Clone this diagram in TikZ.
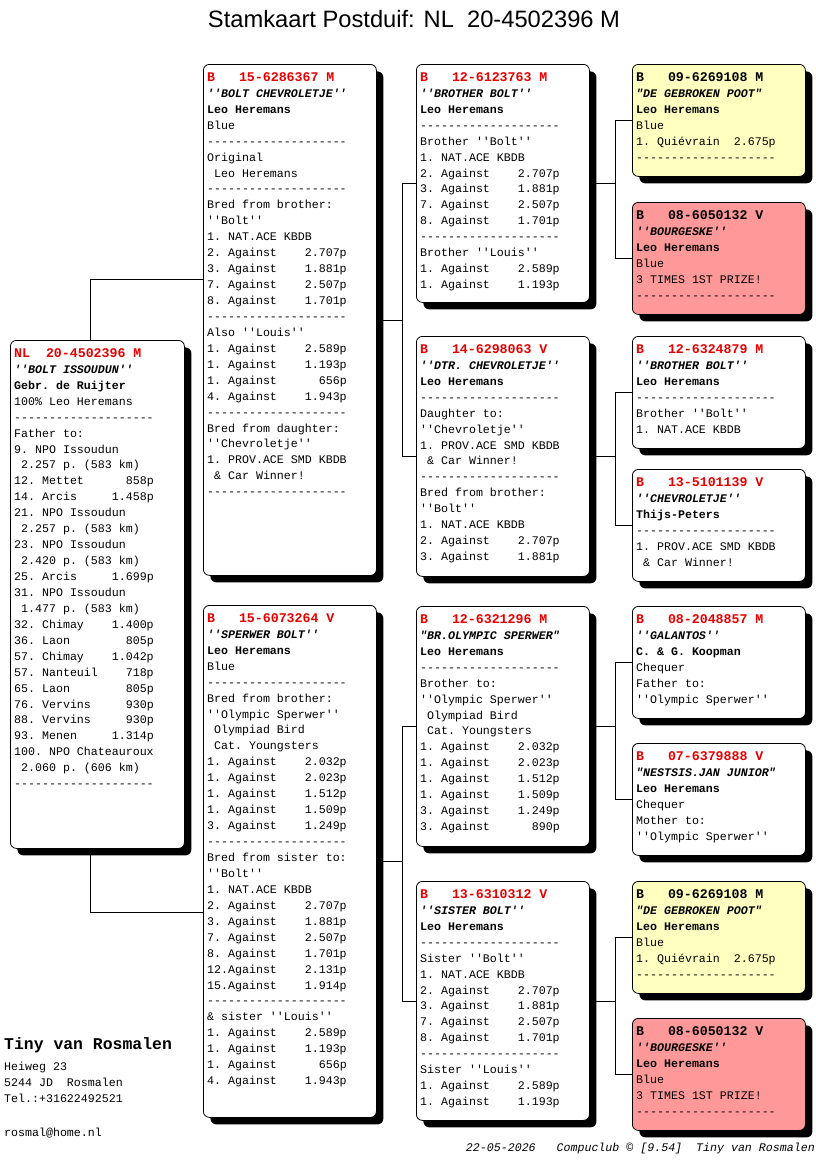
\documentclass[tikz,border=0pt]{standalone}
\usepackage{fontspec}
\setmainfont{Liberation Serif}
\setsansfont{Liberation Sans}
\setmonofont{Liberation Mono}
\usetikzlibrary{calc}
\usetikzlibrary{shadows}
\definecolor[named]{PedRed}{RGB}{230,0,0}
\definecolor[named]{PedYellow}{RGB}{255,255,192}
\definecolor[named]{PedPink}{RGB}{255,153,153}
\pgfdeclarelayer{paper}
\pgfdeclarelayer{links}
\pgfsetlayers{paper,links,main}
\newcommand{\cardfont}{\fontsize{11.67}{16}\selectfont\ttfamily\frenchspacing}
\newcommand{\ring}[1]{\strut{\fontsize{13.3}{16}\selectfont\bfseries #1}}
\newcommand{\redring}[1]{\textcolor{PedRed}{\ring{#1}}}
\newcommand{\pname}[1]{{\bfseries\itshape #1}}
\newcommand{\owner}[1]{{\bfseries #1}}
\newcommand{\ind}{\hspace*{0.6em}}
\newcommand{\dashes}{--------------------}
\tikzset{
  card/.style={draw=black, line width=0.8bp, rounded corners=6bp,
    anchor=north west, inner sep=0pt,
    drop shadow={shadow xshift=7bp, shadow yshift=-7bp, fill=black, opacity=1}},
  cardtext/.style={anchor=north west, inner sep=0pt, align=left, font=\cardfont},
  link/.style={draw=black, line width=0.8bp}
}
% name, x, y, width, height, fill, text
\newcommand{\card}[7]{%
  \node[card, fill=#6, minimum width=#4, minimum height=#5] (#1) at (#2,#3) {};
  \node[cardtext] (#1t) at ($(#1.north west)+(4,6)$) {#7};
}

\begin{document}
\begin{tikzpicture}[x=1bp,y=-1bp]
  \useasboundingbox (0,0) rectangle (816,1172);
  \begin{pgfonlayer}{paper}
    \fill[white] (0,0) rectangle (816,1172);
  \end{pgfonlayer}

  \node[anchor=base, inner sep=0pt, font=\fontsize{23.8}{28}\selectfont\sffamily]
    (title) at (414,27) {Stamkaart Postduif: NL\ \ 20-4502396 M};

  % The pigeon itself
  \card{S}{10}{340}{174bp}{508bp}{white}{%
    \redring{NL~~20-4502396 M}\\
    \pname{''BOLT ISSOUDUN''}\\
    \owner{Gebr. de Ruijter}\\
    100\% Leo Heremans\\
    \dashes\\
    Father to:\\
    9. NPO Issoudun\\
    \ind 2.257 p. (583 km)\\
    12. Mettet~~~~~~858p\\
    14. Arcis~~~~~1.458p\\
    21. NPO Issoudun\\
    \ind 2.257 p. (583 km)\\
    23. NPO Issoudun\\
    \ind 2.420 p. (583 km)\\
    25. Arcis~~~~~1.699p\\
    31. NPO Issoudun\\
    \ind 1.477 p. (583 km)\\
    32. Chimay~~~~1.400p\\
    36. Laon~~~~~~~~805p\\
    57. Chimay~~~~1.042p\\
    57. Nanteuil~~~~718p\\
    65. Laon~~~~~~~~805p\\
    76. Vervins~~~~~930p\\
    88. Vervins~~~~~930p\\
    93. Menen~~~~~1.314p\\
    100. NPO Chateauroux\\
    \ind 2.060 p. (606 km)\\
    \dashes}

  % Parents
  \card{F}{203}{64}{173bp}{511bp}{white}{%
    \redring{B~~~15-6286367 M}\\
    \pname{''BOLT CHEVROLETJE''}\\
    \owner{Leo Heremans}\\
    Blue\\
    \dashes\\
    Original\\
    \ind Leo Heremans\\
    \dashes\\
    Bred from brother:\\
    ''Bolt''\\
    1. NAT.ACE KBDB\\
    2. Against~~~~2.707p\\
    3. Against~~~~1.881p\\
    7. Against~~~~2.507p\\
    8. Against~~~~1.701p\\
    \dashes\\
    Also ''Louis''\\
    1. Against~~~~2.589p\\
    1. Against~~~~1.193p\\
    1. Against~~~~~~656p\\
    4. Against~~~~1.943p\\
    \dashes\\
    Bred from daughter:\\
    ''Chevroletje''\\
    1. PROV.ACE SMD KBDB\\
    \ind\& Car Winner!\\
    \dashes}
  \card{M}{203}{605}{173bp}{512bp}{white}{%
    \redring{B~~~15-6073264 V}\\
    \pname{''SPERWER BOLT''}\\
    \owner{Leo Heremans}\\
    Blue\\
    \dashes\\
    Bred from brother:\\
    ''Olympic Sperwer''\\
    \ind Olympiad Bird\\
    \ind Cat. Youngsters\\
    1. Against~~~~2.032p\\
    1. Against~~~~2.023p\\
    1. Against~~~~1.512p\\
    1. Against~~~~1.509p\\
    3. Against~~~~1.249p\\
    \dashes\\
    Bred from sister to:\\
    ''Bolt''\\
    1. NAT.ACE KBDB\\
    2. Against~~~~2.707p\\
    3. Against~~~~1.881p\\
    7. Against~~~~2.507p\\
    8. Against~~~~1.701p\\
    12.Against~~~~2.131p\\
    15.Against~~~~1.914p\\
    \dashes\\
    \& sister ''Louis''\\
    1. Against~~~~2.589p\\
    1. Against~~~~1.193p\\
    1. Against~~~~~~656p\\
    4. Against~~~~1.943p}

  % Grandparents
  \card{FF}{416}{64}{173bp}{238bp}{white}{%
    \redring{B~~~12-6123763 M}\\
    \pname{''BROTHER BOLT''}\\
    \owner{Leo Heremans}\\
    \dashes\\
    Brother ''Bolt''\\
    1. NAT.ACE KBDB\\
    2. Against~~~~2.707p\\
    3. Against~~~~1.881p\\
    7. Against~~~~2.507p\\
    8. Against~~~~1.701p\\
    \dashes\\
    Brother ''Louis''\\
    1. Against~~~~2.589p\\
    1. Against~~~~1.193p}
  \card{FM}{416}{336}{173bp}{240bp}{white}{%
    \redring{B~~~14-6298063 V}\\
    \pname{''DTR. CHEVROLETJE''}\\
    \owner{Leo Heremans}\\
    \dashes\\
    Daughter to:\\
    ''Chevroletje''\\
    1. PROV.ACE SMD KBDB\\
    \ind\& Car Winner!\\
    \dashes\\
    Bred from brother:\\
    ''Bolt''\\
    1. NAT.ACE KBDB\\
    2. Against~~~~2.707p\\
    3. Against~~~~1.881p}
  \card{MF}{416}{606}{173bp}{240bp}{white}{%
    \redring{B~~~12-6321296 M}\\
    \pname{"BR.OLYMPIC SPERWER"}\\
    \owner{Leo Heremans}\\
    \dashes\\
    Brother to:\\
    ''Olympic Sperwer''\\
    \ind Olympiad Bird\\
    \ind Cat. Youngsters\\
    1. Against~~~~2.032p\\
    1. Against~~~~2.023p\\
    1. Against~~~~1.512p\\
    1. Against~~~~1.509p\\
    3. Against~~~~1.249p\\
    3. Against~~~~~~890p}
  \card{MM}{416}{881}{173bp}{239bp}{white}{%
    \redring{B~~~13-6310312 V}\\
    \pname{''SISTER BOLT''}\\
    \owner{Leo Heremans}\\
    \dashes\\
    Sister ''Bolt''\\
    1. NAT.ACE KBDB\\
    2. Against~~~~2.707p\\
    3. Against~~~~1.881p\\
    7. Against~~~~2.507p\\
    8. Against~~~~1.701p\\
    \dashes\\
    Sister ''Louis''\\
    1. Against~~~~2.589p\\
    1. Against~~~~1.193p}

  % Great-grandparents
  \card{FFF}{632}{64}{173bp}{112bp}{PedYellow}{%
    \ring{B~~~09-6269108 M}\\
    \pname{"DE GEBROKEN POOT"}\\
    \owner{Leo Heremans}\\
    Blue\\
    1. Quiévrain~~2.675p\\
    \dashes}
  \card{FFM}{632}{202}{173bp}{112bp}{PedPink}{%
    \ring{B~~~08-6050132 V}\\
    \pname{''BOURGESKE''}\\
    \owner{Leo Heremans}\\
    Blue\\
    3 TIMES 1ST PRIZE!\\
    \dashes}
  \card{FMF}{632}{336}{173bp}{112bp}{white}{%
    \redring{B~~~12-6324879 M}\\
    \pname{''BROTHER BOLT''}\\
    \owner{Leo Heremans}\\
    \dashes\\
    Brother ''Bolt''\\
    1. NAT.ACE KBDB}
  \card{FMM}{632}{469}{173bp}{112bp}{white}{%
    \redring{B~~~13-5101139 V}\\
    \pname{''CHEVROLETJE''}\\
    \owner{Thijs-Peters}\\
    \dashes\\
    1. PROV.ACE SMD KBDB\\
    \ind\& Car Winner!}
  \card{MFF}{632}{606}{173bp}{112bp}{white}{%
    \redring{B~~~08-2048857 M}\\
    \pname{''GALANTOS''}\\
    \owner{C. \& G. Koopman}\\
    Chequer\\
    Father to:\\
    ''Olympic Sperwer''}
  \card{MFM}{632}{743}{173bp}{112bp}{white}{%
    \redring{B~~~07-6379888 V}\\
    \pname{"NESTSIS.JAN JUNIOR"}\\
    \owner{Leo Heremans}\\
    Chequer\\
    Mother to:\\
    ''Olympic Sperwer''}
  \card{MMF}{632}{881}{173bp}{112bp}{PedYellow}{%
    \ring{B~~~09-6269108 M}\\
    \pname{"DE GEBROKEN POOT"}\\
    \owner{Leo Heremans}\\
    Blue\\
    1. Quiévrain~~2.675p\\
    \dashes}
  \card{MMM}{632}{1018}{173bp}{112bp}{PedPink}{%
    \ring{B~~~08-6050132 V}\\
    \pname{''BOURGESKE''}\\
    \owner{Leo Heremans}\\
    Blue\\
    3 TIMES 1ST PRIZE!\\
    \dashes}

  % Breeder and footer
  \node[anchor=base west, inner sep=0pt, font=\fontsize{16.5}{20}\selectfont\ttfamily\bfseries]
    (breeder) at (4,1049) {Tiny van Rosmalen};
  \node[cardtext] (address) at (4,1059) {\strut Heiweg 23\\5244 JD~~Rosmalen\\Tel.:+31622492521};
  \node[anchor=base west, inner sep=0pt, font=\cardfont] (mail) at (4,1136) {rosmal@home.nl};
  \node[anchor=base east, inner sep=0pt, font=\cardfont\itshape]
    (footer) at (815,1151) {22-05-2026~~~Compuclub © [9.54]~~Tiny van Rosmalen};

  % Pedigree lines
  \begin{pgfonlayer}{links}
    \draw[link] ($(S.north west)+(80,0)$) |- ($(F.north west)+(0,215)$);
    \draw[link] ($(S.south west)+(80,0)$) |- ($(M.north west)+(0,307)$);
    \draw[link] (F.east) -- ++(26,0) coordinate (Fj);
    \draw[link] (FF.west) -| (Fj) |- (FM.west);
    \draw[link] (M.east) -- ++(26,0) coordinate (Mj);
    \draw[link] (MF.west) -| (Mj) |- (MM.west);
    \draw[link] (FF.east) -- ++(26,0) coordinate (FFj);
    \draw[link] (FFF.west) -| (FFj) |- (FFM.west);
    \draw[link] (FM.east) -- ++(26,0) coordinate (FMj);
    \draw[link] (FMF.west) -| (FMj) |- (FMM.west);
    \draw[link] (MF.east) -- ++(26,0) coordinate (MFj);
    \draw[link] (MFF.west) -| (MFj) |- (MFM.west);
    \draw[link] (MM.east) -- ++(26,0) coordinate (MMj);
    \draw[link] (MMF.west) -| (MMj) |- (MMM.west);
  \end{pgfonlayer}
\end{tikzpicture}
\end{document}
